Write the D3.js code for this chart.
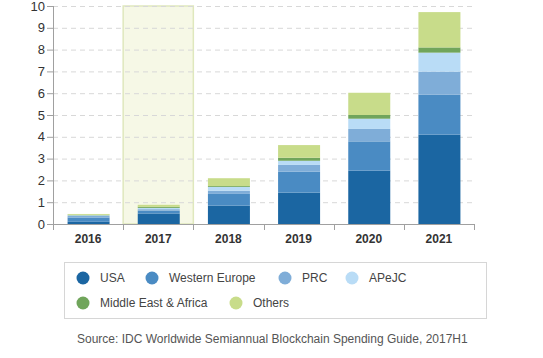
<!DOCTYPE html>
<html><head><meta charset="utf-8">
<script src="https://cdn.jsdelivr.net/npm/d3@7"></script>
<style>
html,body{margin:0;padding:0;background:#fff;}
svg{display:block;font-family:"Liberation Sans",Arial,sans-serif;}
</style></head>
<body><svg id="c" width="543" height="358"></svg>
<script>
const years = ["2016","2017","2018","2019","2020","2021"];
const seriesNames = ["USA","Western Europe","PRC","APeJC","Middle East & Africa","Others"];
const USA = [0.10,0.47,0.84,1.44,2.45,4.10];
const WesternEurope = [0.20,0.14,0.54,0.96,1.34,1.83];
const PRC = [0.07,0.07,0.15,0.31,0.57,1.06];
const APeJC = [0.03,0.06,0.17,0.19,0.47,0.87];
const MEA = [0.02,0.05,0.04,0.14,0.17,0.24];
const Others = [0.04,0.09,0.36,0.58,1.02,1.62];
const yTicks = [0,1,2,3,4,5,6,7,8,9,10];
const highlightYear = "2017";
const colors = ["#1b66a2","#4a8bc3","#7fadd8","#b9dcf6","#70a55b","#c8dc8a"];

const seriesValues = [USA,WesternEurope,PRC,APeJC,MEA,Others];
const rows = years.map((y,i)=>{const r={year:y};seriesNames.forEach((s,j)=>r[s]=seriesValues[j][i]);return r;});
const stack = d3.stack().keys(seriesNames)(rows);

const svg = d3.select("#c");
const x = d3.scaleBand().domain(years).range([53,474]).paddingInner(0).paddingOuter(0);
const y = d3.scaleLinear().domain([0,10]).range([224,6]);
const bw = 42;
const bx = d => x(d) + (x.bandwidth()-bw)/2 + 0.5;

// highlight
svg.append("rect").attr("x",x(highlightYear)).attr("y",y(10)).attr("width",x.bandwidth()).attr("height",y(0)-y(10))
  .attr("fill","#f6f8e6").attr("stroke","#dfe8bd").attr("stroke-width",1.5);

// grid
svg.append("g").selectAll("line").data(yTicks.filter(t=>t>0)).join("line")
  .attr("x1",53).attr("x2",474).attr("y1",d=>y(d)+0.5).attr("y2",d=>y(d)+0.5)
  .attr("stroke","#d8d8d8").attr("stroke-dasharray","5,4");

// bars
svg.append("g").selectAll("g").data(stack).join("g").attr("fill",(d,i)=>colors[i])
  .selectAll("rect").data(d=>d).join("rect")
  .attr("x",d=>bx(d.data.year)).attr("width",bw)
  .attr("y",d=>y(d[1])).attr("height",d=>Math.max(0,y(d[0])-y(d[1])));

// y axis
const ya = svg.append("g").attr("transform","translate(53,0)")
  .call(d3.axisLeft(y).tickValues(yTicks).tickSize(6).tickPadding(2).tickFormat(d3.format("d")));
ya.select(".domain").attr("stroke","#a0a0a0").attr("d","M0.5,"+y(10)+"V"+(y(0)+6));
ya.selectAll(".tick line").attr("stroke","#a0a0a0");
ya.selectAll("text").attr("font-size",13).attr("fill","#333").attr("font-family","Liberation Sans,Arial,sans-serif");

// x axis
const xa = svg.append("g").attr("transform","translate(0,224)")
  .call(d3.axisBottom(x).tickSize(0).tickPadding(10));
xa.select(".domain").attr("stroke","#a0a0a0").attr("d","M47,0.5H474");
xa.selectAll("text").attr("font-size",12).attr("font-weight","bold").attr("fill","#333").attr("font-family","Liberation Sans,Arial,sans-serif");
svg.append("g").selectAll("line").data(years.concat(["end"])).join("line")
  .attr("x1",(d,i)=>Math.round(53+i*x.bandwidth())+0.5).attr("x2",(d,i)=>Math.round(53+i*x.bandwidth())+0.5)
  .attr("y1",224).attr("y2",230).attr("stroke","#a0a0a0");

// legend
svg.append("rect").attr("x",64.5).attr("y",262.5).attr("width",422).attr("height",56)
  .attr("fill","#fff").attr("stroke","#d6d6d6");
const legPos = [[83,278],[152,278],[285,278],[352,278],[83,303],[236,303]];
const lg = svg.append("g").selectAll("g").data(seriesNames).join("g")
  .attr("transform",(d,i)=>`translate(${legPos[i][0]},${legPos[i][1]})`);
lg.append("circle").attr("r",6.5).attr("fill",(d,i)=>colors[i]);
lg.append("text").attr("x",17).attr("dy","0.35em").attr("font-size",12).attr("fill","#444").text(d=>d);

svg.append("text").attr("x",77).attr("y",343).attr("font-size",12).attr("fill","#555")
  .text("Source: IDC Worldwide Semiannual Blockchain Spending Guide, 2017H1");
</script></body></html>
